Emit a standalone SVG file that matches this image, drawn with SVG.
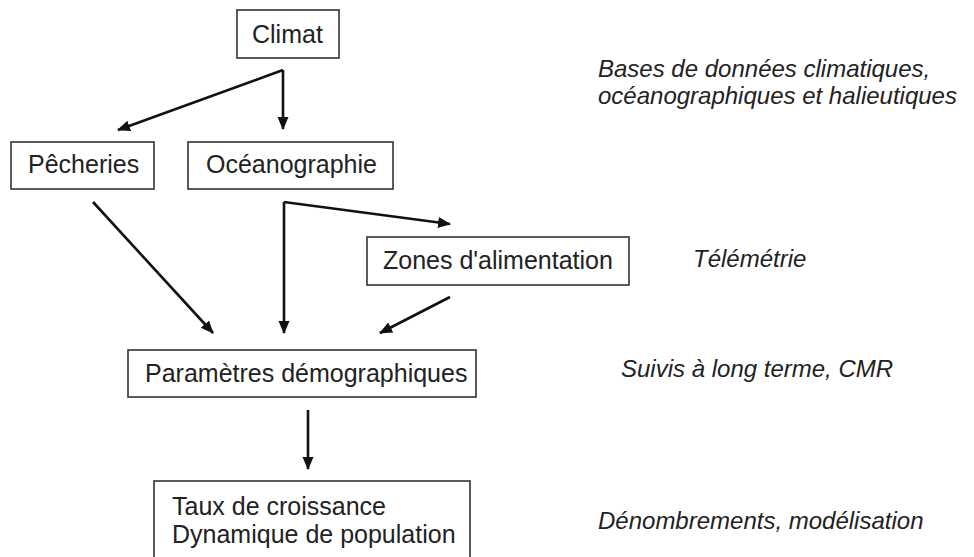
<svg xmlns="http://www.w3.org/2000/svg" width="974" height="557" viewBox="0 0 974 557">
<defs>
<marker id="ah" markerUnits="userSpaceOnUse" markerWidth="13" markerHeight="12" refX="12" refY="5.5" orient="auto">
<path d="M0,0 L13,5.5 L0,11 z" fill="#111"/>
</marker>
<style>
.box{fill:#fff;stroke:#333;stroke-width:1.6}
.t{font-family:"Liberation Sans",Arial,sans-serif;font-size:25px;fill:#222}
.i{font-family:"Liberation Sans",Arial,sans-serif;font-size:24px;font-style:italic;fill:#222}
.c{fill:none;stroke:#111;stroke-width:2.6;marker-end:url(#ah)}
</style>
</defs>
<rect width="974" height="557" fill="#fff"/>
<g id="connectors">
<path class="c" d="M283,70 L118,130"/>
<path class="c" d="M283,70 L283,129"/>
<path class="c" d="M284,202 L284,333"/>
<path class="c" d="M284,202 L450,224"/>
<path class="c" d="M93,202 L213,333"/>
<path class="c" d="M450,297 L380,333"/>
<path class="c" d="M308,410 L308,469"/>
</g>
<g id="climat"><rect class="box" x="237" y="10" width="102" height="48"/><text class="t" x="252" y="43">Climat</text></g>
<g id="pecheries"><rect class="box" x="11" y="142" width="143" height="47"/><text class="t" x="28" y="173">Pêcheries</text></g>
<g id="oceanographie"><rect class="box" x="188" y="142" width="205" height="47"/><text class="t" x="206" y="173">Océanographie</text></g>
<g id="zones"><rect class="box" x="367" y="237" width="262" height="48"/><text class="t" x="383" y="269">Zones d'alimentation</text></g>
<g id="parametres"><rect class="box" x="128" y="350" width="348" height="47"/><text class="t" x="145" y="382">Paramètres démographiques</text></g>
<g id="taux"><rect class="box" x="154" y="481" width="316" height="100"/><text class="t" x="172" y="515">Taux de croissance</text><text class="t" x="172" y="543">Dynamique de population</text></g>
<g id="labels">
<text class="i" x="598" y="77">Bases de données climatiques,</text>
<text class="i" x="598" y="104">océanographiques et halieutiques</text>
<text class="i" x="693" y="267">Télémétrie</text>
<text class="i" x="621" y="377">Suivis à long terme, CMR</text>
<text class="i" x="598" y="529">Dénombrements, modélisation</text>
</g>
</svg>
